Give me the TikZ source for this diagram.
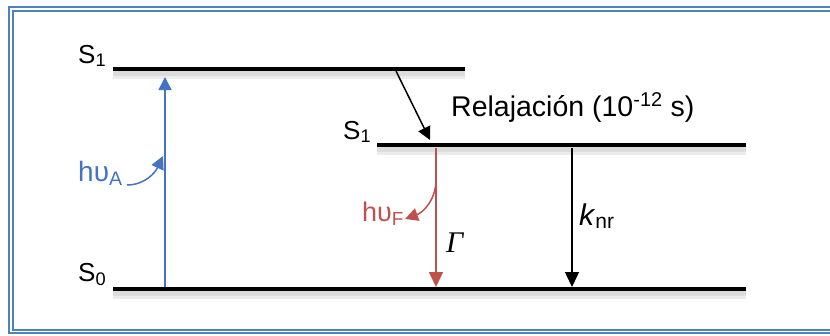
\documentclass[tikz,border=0pt]{standalone}
\usepackage{fontspec}
\setmainfont{Liberation Sans}
\newfontfamily\serifit{Liberation Serif}
\usetikzlibrary{arrows.meta}
\definecolor{bluA}{RGB}{68,114,196}
\definecolor{redF}{RGB}{192,80,77}
\definecolor{frameblue}{RGB}{79,129,189}
\tikzset{
  level/.style={line width=4pt, black},
  shadowline/.style={black!60, opacity=0.12},
  tip/.style={-{Triangle[length=15pt,width=14pt]}},
  smalltip/.style={-{Triangle[length=13pt,width=13pt]}},
  lbl/.style={inner sep=0pt, font=\fontsize{26}{28}\selectfont},
  biglbl/.style={inner sep=0pt, font=\fontsize{28.5}{30}\selectfont},
}
\begin{document}
\begin{tikzpicture}[x=1pt,y=-1pt]
\useasboundingbox (0,0) rectangle (830,335);
\clip (0,0) rectangle (830,335);
% frame
\draw[frameblue, line width=2pt] (9,7) rectangle (860,333);
\draw[frameblue, line width=1.6pt] (13,11) rectangle (856,330);
% level coordinates
\coordinate (a1) at (113,69); \coordinate (a2) at (465,69);
\coordinate (b1) at (377,145); \coordinate (b2) at (746,145);
\coordinate (c1) at (113,289); \coordinate (c2) at (746,289);
% shadows
\foreach \p/\q in {a1/a2, b1/b2, c1/c2}{
  \draw[shadowline, line width=10pt] ([yshift=-5pt]\p) -- ([yshift=-5pt]\q);
  \draw[shadowline, line width=6pt] ([yshift=-4pt]\p) -- ([yshift=-4pt]\q);
}
% levels
\draw[level] (a1) -- (a2);
\draw[level] (b1) -- (b2);
\draw[level] (c1) -- (c2);
% labels
\node[lbl, anchor=base west] (s1a) at (78,63) {S\textsubscript{1}};
\node[lbl, anchor=base west] (s1b) at (343,139) {S\textsubscript{1}};
\node[lbl, anchor=base west] (s0) at (78,281) {S\textsubscript{0}};
\node[biglbl, anchor=base west] (rel) at (451,116) {Relajación (10\textsuperscript{-12} s)};
% absorption
\coordinate (absS) at (165,287);
\coordinate (absE) at (165,77);
\draw[bluA, line width=1.5pt, smalltip] (absS) -- (absE);
\node[lbl, text=bluA, anchor=base west, font=\fontsize{28}{30}\selectfont] (hA) at (78,181) {hυ\textsubscript{A}};
\coordinate (cA1) at (127,185);
\coordinate (cA2) at (163,156);
\draw[bluA, line width=1.5pt, smalltip] (cA1) to[out=0, in=-115] (cA2);
% relaxation
\coordinate (r1) at (396,71);
\coordinate (r2) at (430,140);
\draw[black, line width=1.5pt, smalltip] (r1) -- (r2);
% fluorescence
\coordinate (fS) at (436,148);
\coordinate (fE) at (436,287);
\draw[redF, line width=1.5pt, tip] (fS) -- (fE);
\node[lbl, text=redF, anchor=base west, font=\fontsize{27}{30}\selectfont] (hF) at (362,221) {hυ\textsubscript{F}};
\coordinate (cF1) at (436,180);
\coordinate (cF2) at (405,219);
\draw[redF, line width=1.5pt, smalltip] (cF1) to[out=-90, in=20] (cF2);
\node[inner sep=0pt, anchor=base west, font=\fontsize{30}{32}\selectfont\serifit\itshape] (gam) at (446,252) {Γ};
% non-radiative
\coordinate (nS) at (572,148);
\coordinate (nE) at (572,287);
\draw[black, line width=1.5pt, tip] (nS) -- (nE);
\node[lbl, anchor=base west, font=\fontsize{30}{32}\selectfont] (knr) at (579,225) {\textit{k}\textsubscript{nr}};
\end{tikzpicture}
\end{document}
